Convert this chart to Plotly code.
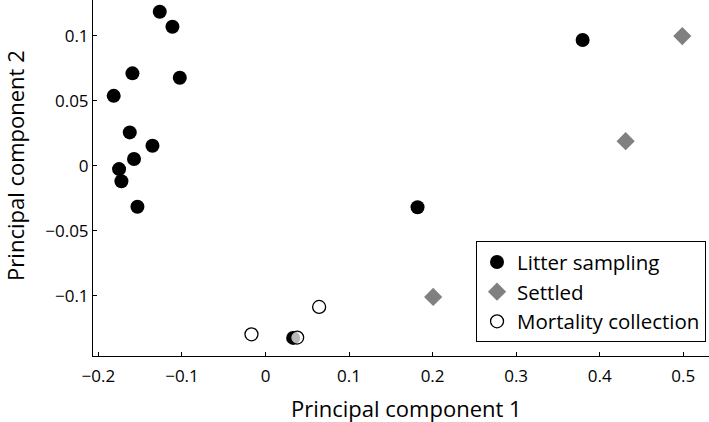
import plotly.graph_objects as go

# Litter sampling (black circles)
litter_pc1 = [-0.1266, -0.1114, -0.1593, -0.1026, -0.1817, -0.1625, -0.1353, -0.1574, -0.1753, -0.1725, -0.1533, 0.182, 0.3796, 0.0331]
litter_pc2 = [0.1185, 0.1069, 0.0711, 0.0677, 0.0538, 0.0257, 0.0154, 0.0052, -0.0025, -0.0118, -0.0315, -0.0318, 0.0967, -0.1323]

# Settled (grey diamonds)
settled_pc1 = [0.4989, 0.4311, 0.2007]
settled_pc2 = [0.0998, 0.0190, -0.1008]

# Mortality collection (open circles)
mort_pc1 = [-0.0168, 0.0642, 0.0379]
mort_pc2 = [-0.1295, -0.1085, -0.1320]

x_ticks = [-0.2, -0.1, 0, 0.1, 0.2, 0.3, 0.4, 0.5]
x_tick_text = ["\u22120.2", "\u22120.1", "0", "0.1", "0.2", "0.3", "0.4", "0.5"]
y_ticks = [-0.1, -0.05, 0, 0.05, 0.1]
y_tick_text = ["\u22120.1", "\u22120.05", "0", "0.05", "0.1"]

x_title = "Principal component 1"
y_title = "Principal component 2"

FONT = "Open Sans"

fig = go.Figure()
fig.add_trace(go.Scatter(
    x=litter_pc1, y=litter_pc2, mode="markers", name="Litter sampling", cliponaxis=False,
    marker=dict(symbol="circle", size=14, color="black", line=dict(width=0)),
))
fig.add_trace(go.Scatter(
    x=settled_pc1, y=settled_pc2, mode="markers", name="Settled", cliponaxis=False,
    marker=dict(symbol="diamond", size=14, color="#808080", line=dict(width=0)),
))
fig.add_trace(go.Scatter(
    x=mort_pc1, y=mort_pc2, mode="markers", name="Mortality collection", cliponaxis=False,
    marker=dict(symbol="circle", size=13, color="rgba(255,255,255,0.72)",
                line=dict(width=1.3, color="black")),
))

fig.update_layout(
    width=709, height=422,
    margin=dict(l=93, r=0, t=0, b=66),
    paper_bgcolor="white", plot_bgcolor="white",
    font=dict(family=FONT, size=17, color="black"),
    showlegend=True,
    legend=dict(
        x=0.6218, y=0.3226, xanchor="left", yanchor="top",
        bgcolor="white", bordercolor="black", borderwidth=1,
        font=dict(family=FONT, size=20.5, color="black"),
        itemwidth=30, tracegroupgap=0,
    ),
    xaxis=dict(
        range=[-0.2065, 0.5309], showgrid=False, zeroline=False, automargin=False,
        showline=True, linecolor="black", linewidth=1,
        ticks="inside", ticklen=4, tickcolor="black",
        tickvals=x_ticks, ticktext=x_tick_text, ticklabelstandoff=5,
    ),
    yaxis=dict(
        range=[-0.1462, 0.1275], showgrid=False, zeroline=False, automargin=False,
        showline=True, linecolor="black", linewidth=1,
        ticks="inside", ticklen=4, tickcolor="black",
        tickvals=y_ticks, ticktext=y_tick_text,
    ),
    annotations=[
        dict(text=x_title, xref="paper", yref="paper", x=0.5097, y=0,
             xanchor="center", yanchor="middle", yshift=-52, showarrow=False,
             font=dict(family=FONT, size=22, color="black")),
        dict(text=y_title, xref="paper", yref="paper", x=0, y=0.534,
             xanchor="center", yanchor="middle", xshift=-78, textangle=-90,
             showarrow=False, font=dict(family=FONT, size=22, color="black")),
    ],
)

fig.write_html("out.html", config={"displayModeBar": False},
               post_script="document.body.style.margin='0';document.body.style.overflow='hidden';")
